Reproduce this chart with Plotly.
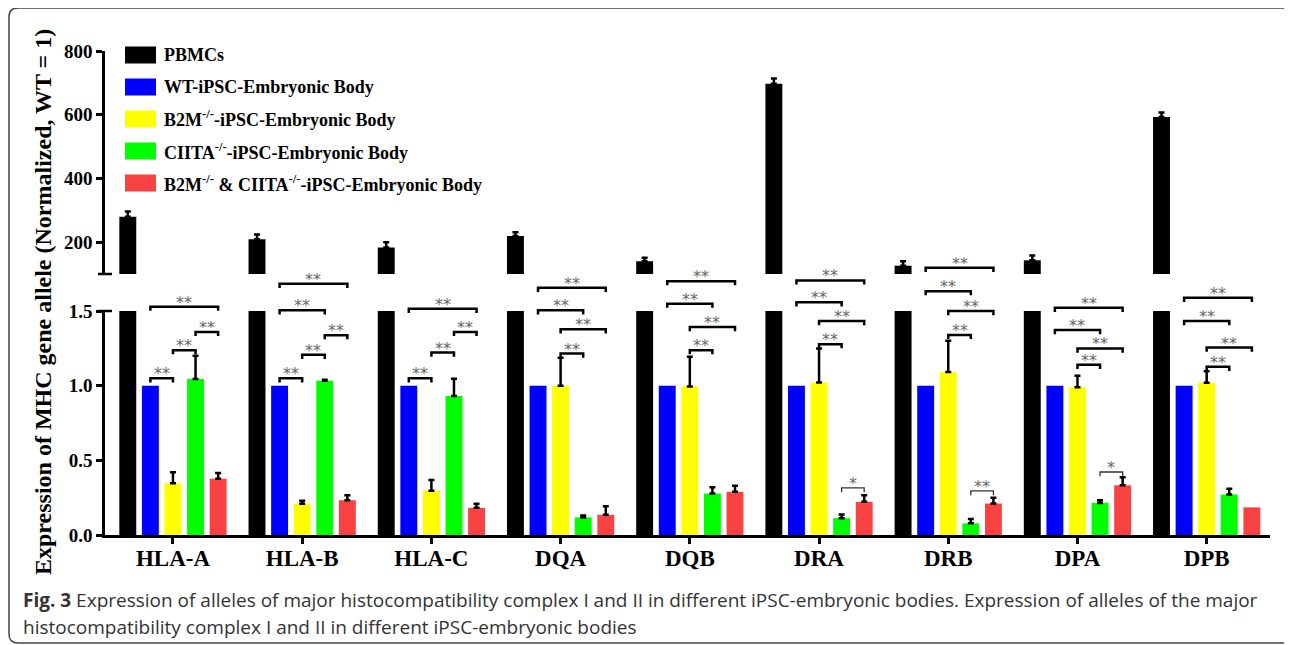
import plotly.graph_objects as go

# ---------------- data ----------------
categories = ["HLA-A", "HLA-B", "HLA-C", "DQA", "DQB", "DRA", "DRB", "DPA", "DPB"]
series_names = [
    "PBMCs",
    "WT-iPSC-Embryonic Body",
    "B2M<sup>-/-</sup>-iPSC-Embryonic Body",
    "CIITA<sup>-/-</sup>-iPSC-Embryonic Body",
    "B2M<sup>-/-</sup> & CIITA<sup>-/-</sup>-iPSC-Embryonic Body",
]
colors = ["#000000", "#0000FF", "#FFFF00", "#00FF00", "#F94343"]

pbmc = [280, 209, 183, 219, 140, 697, 126, 143, 593]
pbmc_err = [16, 15, 17, 12, 11, 17, 14, 15, 14]
wt = [1.0, 1.0, 1.0, 1.0, 1.0, 1.0, 1.0, 1.0, 1.0]
wt_err = [None, None, None, None, None, None, None, None, None]
b2m = [0.347, 0.209, 0.297, 1.0, 0.995, 1.022, 1.091, 0.989, 1.02]
b2m_err = [0.073, 0.021, 0.072, 0.187, 0.198, 0.227, 0.209, 0.078, 0.076]
ciita = [1.044, 1.033, 0.931, 0.118, 0.278, 0.113, 0.078, 0.215, 0.271]
ciita_err = [0.156, 0.007, 0.116, 0.013, 0.042, 0.025, 0.029, 0.018, 0.038]
dko = [0.377, 0.233, 0.182, 0.135, 0.289, 0.222, 0.211, 0.333, 0.185]
dko_err = [0.038, 0.034, 0.027, 0.058, 0.040, 0.045, 0.038, 0.054, None]

# significance brackets: (category, from series, to series, height, label)
brackets = [
    ("HLA-A", 1, 2, 1.05, "**"), ("HLA-A", 2, 3, 1.238, "**"), ("HLA-A", 3, 4, 1.36, "**"), ("HLA-A", 1, 4, 1.529, "**"),
    ("HLA-B", 1, 2, 1.05, "**"), ("HLA-B", 2, 3, 1.207, "**"), ("HLA-B", 3, 4, 1.338, "**"), ("HLA-B", 1, 3, 1.505, "**"), ("HLA-B", 1, 4, 1.682, "**"),
    ("HLA-C", 1, 2, 1.05, "**"), ("HLA-C", 2, 3, 1.222, "**"), ("HLA-C", 3, 4, 1.36, "**"), ("HLA-C", 1, 4, 1.515, "**"),
    ("DQA", 2, 3, 1.215, "**"), ("DQA", 2, 4, 1.378, "**"), ("DQA", 1, 3, 1.505, "**"), ("DQA", 1, 4, 1.655, "**"),
    ("DQB", 2, 3, 1.238, "**"), ("DQB", 2, 4, 1.393, "**"), ("DQB", 1, 3, 1.549, "**"), ("DQB", 1, 4, 1.70, "**"),
    ("DRA", 2, 3, 1.278, "**"), ("DRA", 2, 4, 1.433, "**"), ("DRA", 1, 3, 1.558, "**"), ("DRA", 1, 4, 1.705, "**"), ("DRA", 3, 4, 0.315, "*"),
    ("DRB", 2, 3, 1.34, "**"), ("DRB", 2, 4, 1.50, "**"), ("DRB", 1, 3, 1.633, "**"), ("DRB", 1, 4, 1.789, "**"), ("DRB", 3, 4, 0.295, "**"),
    ("DPA", 2, 3, 1.14, "**"), ("DPA", 2, 4, 1.249, "**"), ("DPA", 1, 3, 1.373, "**"), ("DPA", 1, 4, 1.522, "**"), ("DPA", 3, 4, 0.422, "*"),
    ("DPB", 2, 3, 1.127, "**"), ("DPB", 2, 4, 1.255, "**"), ("DPB", 1, 3, 1.433, "**"), ("DPB", 1, 4, 1.589, "**"),
]

y_title = "Expression of MHC gene allele (Normalized, WT = 1)"
caption_lines = [
    "<b>Fig. 3</b> Expression of alleles of major histocompatibility complex I and II in different "
    "iPSC-embryonic bodies. Expression of alleles of the major",
    "histocompatibility complex I and II in different iPSC-embryonic bodies",
]

# ---------------- layout constants (screen pixels; page has 8px body margin) ----------------
OFF = 8
W, H = 1292 - OFF, 645 - OFF
PL, PR, PT, PB = 105, 1270, 51, 535          # plot area in screen pixels
ML, MR, MT, MB = PL - OFF, W - (PR - OFF), PT - OFF, H - (PB - OFF)
PW, PH = PR - PL, PB - PT
LOW_TOP = (PB - 311) / PH      # domain top of lower (0-1.5) axis
UP_BOT = (PB - 274) / PH       # domain bottom of upper (100-800) axis
SLOT = 0.1748
BW = 0.131
SERIF = "Liberation Serif"


def px(xp):
    return (xp - PL) / PW


def py(yp):
    return (PB - yp) / PH


fig = go.Figure()

values = [pbmc, wt, b2m, ciita, dko]
errors = [pbmc_err, wt_err, b2m_err, ciita_err, dko_err]

for i, (vals, errs) in enumerate(zip(values, errors)):
    off = -2.5 * SLOT + i * SLOT + (SLOT - BW) / 2
    # a missing error value is passed as a non-numeric entry so no bar/cap is drawn
    err_up = [e if e is not None else "NaN" for e in errs]
    err_dn = [0 if e is not None else "NaN" for e in errs]
    axes = ["y", "y2"] if i == 0 else ["y"]
    for ya in axes:
        fig.add_trace(go.Bar(
            x=categories, y=vals, yaxis=ya, xaxis="x",
            name=series_names[i], showlegend=False,
            marker=dict(color=colors[i], line=dict(width=0)),
            width=BW, offset=off,
            error_y=dict(type="data", symmetric=False, array=err_up,
                         arrayminus=err_dn, color="black",
                         thickness=2.5, width=3),
        ))

# empty trace creating the bracket overlay subplot
fig.add_trace(go.Scatter(x=[categories[0]], y=[None], xaxis="x", yaxis="y3",
                         mode="markers", showlegend=False, hoverinfo="skip"))

shapes = []
annotations = []
LEG = 0.028
for cat, a, b, lvl, lab in brackets:
    ci = categories.index(cat)
    x0 = ci + (a - 2) * SLOT
    x1 = ci + (b - 2) * SLOT
    thin = lvl < 0.6
    lw = 1.3 if thin else 2.5
    col = "#333333" if thin else "black"
    shapes.append(dict(type="path", xref="x", yref="y3",
                       path=f"M {x0},{lvl - LEG} L {x0},{lvl} L {x1},{lvl} L {x1},{lvl - LEG}",
                       line=dict(color=col, width=lw)))
    annotations.append(dict(x=(x0 + x1) / 2, y=lvl, xref="x", yref="y3",
                            text=lab, showarrow=False, yanchor="bottom", yshift=-7,
                            font=dict(family="DejaVu Sans", size=16, color="#666666")))

# axis-break marks
for yv in (LOW_TOP, UP_BOT):
    shapes.append(dict(type="line", xref="paper", yref="paper",
                       x0=px(PL - 7), x1=px(PL + 7), y0=yv, y1=yv,
                       line=dict(color="black", width=2.5)))

# legend (manual, larger swatches)
leg_rows = [55, 87, 119, 151, 183]
for name, col, yr in zip(series_names, colors, leg_rows):
    shapes.append(dict(type="rect", xref="paper", yref="paper",
                       x0=px(125), x1=px(156), y0=py(yr + 8.5), y1=py(yr - 8.5),
                       fillcolor=col, line=dict(width=0)))
    annotations.append(dict(x=px(162), y=py(yr), xref="paper", yref="paper",
                            text=f"<b>{name}</b>", showarrow=False,
                            xanchor="left", yanchor="middle",
                            font=dict(family=SERIF, size=18, color="black")))

# y-axis title
annotations.append(dict(x=px(43), y=py(302), xref="paper", yref="paper",
                        text=f"<b>{y_title}</b>", textangle=-90, showarrow=False,
                        xanchor="center", yanchor="middle",
                        font=dict(family=SERIF, size=24, color="black")))

# caption
for line, yc in zip(caption_lines, [600, 627]):
    annotations.append(dict(x=px(21), y=py(yc), xref="paper", yref="paper",
                            text=line, showarrow=False, xanchor="left", yanchor="middle",
                            align="left",
                            font=dict(family="Open Sans", size=19, color="#333333")))

# rounded frame
x0f, x1f, y0f, y1f, r = 9, 1291, 8, 643, 9
path = (f"M {px(x0f + r)},{py(y0f)} L {px(x1f - r)},{py(y0f)} "
        f"Q {px(x1f)},{py(y0f)} {px(x1f)},{py(y0f + r)} "
        f"L {px(x1f)},{py(y1f - r)} Q {px(x1f)},{py(y1f)} {px(x1f - r)},{py(y1f)} "
        f"L {px(x0f + r)},{py(y1f)} Q {px(x0f)},{py(y1f)} {px(x0f)},{py(y1f - r)} "
        f"L {px(x0f)},{py(y0f + r)} Q {px(x0f)},{py(y0f)} {px(x0f + r)},{py(y0f)} Z")
shapes.append(dict(type="path", xref="paper", yref="paper", path=path,
                   line=dict(color="#444444", width=1.5)))

tickfont = dict(family=SERIF, size=19, color="black", weight="bold")

fig.update_layout(
    width=W, height=H,
    margin=dict(l=ML, r=MR, t=MT, b=MB, pad=0),
    paper_bgcolor="white", plot_bgcolor="rgba(0,0,0,0)",
    barmode="overlay",
    showlegend=False,
    xaxis=dict(domain=[0, 1], anchor="y", range=[-0.526, 8.49],
               showline=True, linecolor="black", linewidth=2.5,
               ticks="outside", ticklen=6, tickwidth=2.5, tickcolor="black",
               ticklabelstandoff=-5,
               showgrid=False, zeroline=False,
               tickfont=dict(family=SERIF, size=23, color="black", weight="bold")),
    yaxis=dict(domain=[0, LOW_TOP], anchor="x", range=[0, 1.5],
               tickvals=[0, 0.5, 1.0, 1.5], ticktext=["0.0", "0.5", "1.0", "1.5"],
               showline=True, linecolor="black", linewidth=2.5,
               ticks="outside", ticklen=6, tickwidth=2.5, tickcolor="black",
               showgrid=False, zeroline=False, tickfont=tickfont),
    yaxis2=dict(domain=[UP_BOT, 1], anchor="x", range=[100, 800],
                tickvals=[200, 400, 600, 800], ticktext=["200", "400", "600", "800"],
                showline=True, linecolor="black", linewidth=2.5,
                ticks="outside", ticklen=6, tickwidth=2.5, tickcolor="black",
                showgrid=False, zeroline=False, tickfont=tickfont),
    yaxis3=dict(domain=[0, 1], anchor="x", range=[0, 1.5 / LOW_TOP], visible=False,
                showgrid=False, zeroline=False, fixedrange=True),
    shapes=shapes,
    annotations=annotations,
)

fig.write_html("out.html")
